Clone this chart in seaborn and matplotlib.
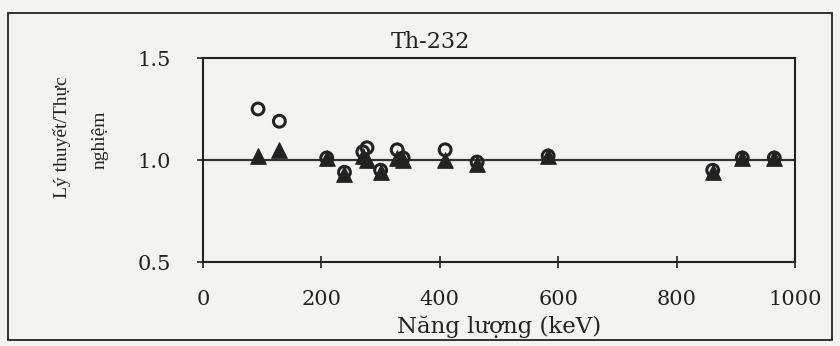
import matplotlib
matplotlib.use("Agg")
import matplotlib.pyplot as plt
import seaborn as sns
import pandas as pd
from matplotlib.patches import Rectangle

# Data
energy = [93, 129, 209, 239, 270, 277, 300, 328, 338, 409, 463, 583, 861, 911, 965]
ratio_circle = [1.25, 1.19, 1.01, 0.94, 1.04, 1.06, 0.95, 1.05, 1.01, 1.05, 0.99, 1.02, 0.95, 1.01, 1.01]
ratio_triangle = [1.02, 1.05, 1.01, 0.93, 1.02, 1.00, 0.94, 1.01, 1.00, 1.00, 0.98, 1.02, 0.94, 1.01, 1.01]
x_ticks = [0, 200, 400, 600, 800, 1000]
y_ticks = [0.5, 1.0, 1.5]
title = "Th-232"
xlabel = "Năng lượng (keV)"
ylabel_lines = ["Lý thuyết/Thực", "nghiệm"]

df_c = pd.DataFrame({"E": energy, "R": ratio_circle})
df_t = pd.DataFrame({"E": energy, "R": ratio_triangle})

sns.set_style("ticks")
plt.rcParams["font.family"] = ["DejaVu Serif"]
bg = "#f3f3f1"
ink = "#222222"

fig = plt.figure(figsize=(8.4, 3.46), dpi=100, facecolor=bg)
ax = fig.add_axes([203 / 840, 1 - 262 / 346, (795 - 203) / 840, (262 - 58) / 346])
ax.set_facecolor(bg)

ax.axhline(1.0, color="#333333", lw=1.6, zorder=1)
sns.scatterplot(data=df_t, x="E", y="R", marker="^", s=125, color=ink,
                edgecolor=ink, linewidth=0.8, ax=ax, zorder=3)
sns.scatterplot(data=df_c, x="E", y="R", marker="o", s=72, facecolor="none",
                edgecolor=ink, linewidth=2.2, ax=ax, zorder=4)

ax.set_xlim(0, 1000)
ax.set_ylim(0.5, 1.5)
ax.set_xticks(x_ticks)
ax.set_yticks(y_ticks)
ax.set_yticklabels([f"{v:.1f}" for v in y_ticks])
ax.tick_params(direction="inout", length=8, width=1.2, colors=ink, labelsize=15)
ax.tick_params(axis="y", pad=19)
ax.tick_params(axis="x", pad=16)
for sp in ax.spines.values():
    sp.set_visible(True)
    sp.set_linewidth(1.5)
    sp.set_color(ink)

ax.set_xlabel(xlabel, fontsize=16.5, color=ink, labelpad=5)
ax.set_ylabel("")

fig.text(430 / 840, 1 - 42 / 346, title, ha="center", va="center", fontsize=16, color=ink)
fig.text(62 / 840, 1 - 137 / 346, ylabel_lines[0], rotation=90, ha="center", va="center",
         fontsize=14, color=ink, family=["Liberation Serif"])
fig.text(100 / 840, 1 - 140 / 346, ylabel_lines[1], rotation=90, ha="center", va="center",
         fontsize=14, color=ink, family=["Liberation Serif"])

fig.patches.append(Rectangle((8 / 840, 1 - 340 / 346), (832 - 8) / 840, (340 - 13) / 346,
                             transform=fig.transFigure, fill=False, edgecolor=ink, lw=1.3))

fig.savefig("out.png", dpi=100, facecolor=bg)
